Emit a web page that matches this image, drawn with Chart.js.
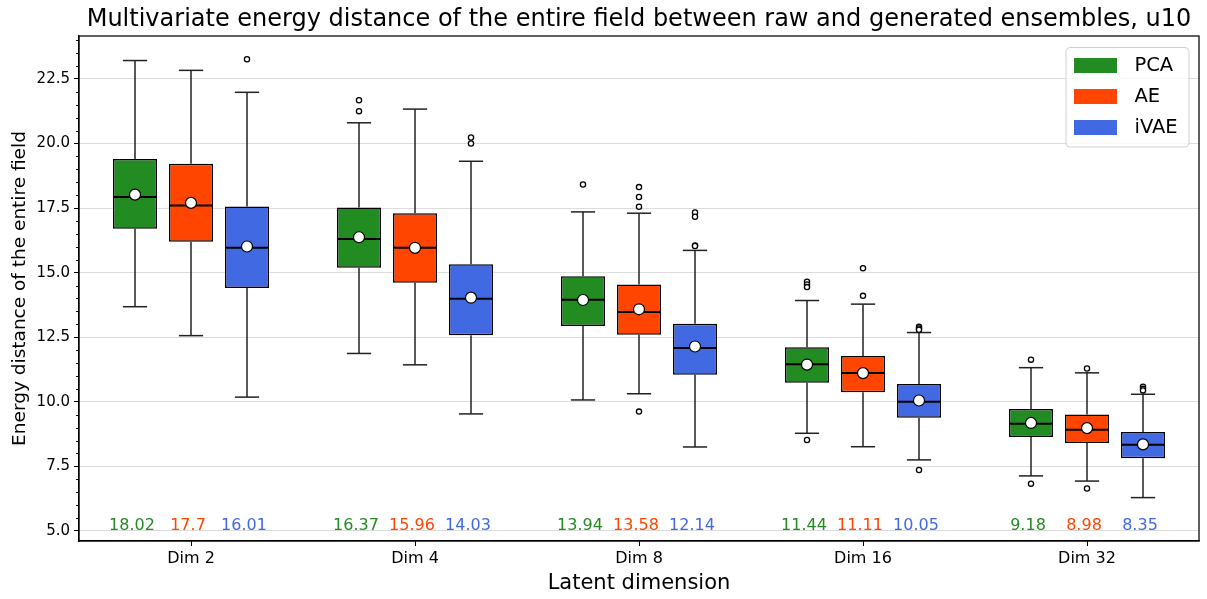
<!DOCTYPE html>
<html>
<head>
<meta charset="utf-8">
<title>Energy distance boxplots</title>
<script src="https://cdn.jsdelivr.net/npm/chart.js@4.4.0/dist/chart.umd.min.js"></script>
<style>
  html, body { margin: 0; padding: 0; background: #fff; }
  #wrap { width: 1207px; height: 599px; }
</style>
</head>
<body>
<div id="wrap"><canvas id="chart" width="1207" height="599"></canvas></div>
<script>
// latent dimensions on the x axis
var dims = ['Dim 2', 'Dim 4', 'Dim 8', 'Dim 16', 'Dim 32'];
var methods = ['PCA', 'AE', 'iVAE'];
var yTicks = [5.0, 7.5, 10.0, 12.5, 15.0, 17.5, 20.0, 22.5];

// PCA
var pcaMean   = [18.02, 16.37, 13.94, 11.44, 9.18];
var pcaMedian = [17.93, 16.30, 13.95, 11.45, 9.15];
var pcaQ1     = [16.70, 15.19, 12.93, 10.74, 8.64];
var pcaQ3     = [19.40, 17.52, 14.86, 12.11, 9.72];
var pcaLow    = [13.68, 11.87, 10.07, 8.78, 7.13];
var pcaHigh   = [23.21, 20.80, 17.35, 13.92, 11.32];
var pcaFliers = [[], [21.67, 21.25], [18.41], [14.65, 14.54, 14.44, 8.52], [11.63, 6.83]];

// AE
var aeMean   = [17.70, 15.96, 13.58, 11.11, 8.98];
var aeMedian = [17.60, 15.96, 13.48, 11.11, 8.92];
var aeQ1     = [16.19, 14.61, 12.59, 10.37, 8.40];
var aeQ3     = [19.21, 17.30, 14.54, 11.77, 9.51];
var aeLow    = [12.56, 11.43, 10.31, 8.26, 6.93];
var aeHigh   = [22.83, 21.33, 17.30, 13.78, 11.12];
var aeFliers = [[], [], [18.31, 17.93, 17.55, 9.62], [15.17, 14.10], [11.29, 6.64]];

// iVAE
var ivaeMean   = [16.01, 14.03, 12.14, 10.05, 8.35];
var ivaeMedian = [15.96, 13.99, 12.08, 10.00, 8.34];
var ivaeQ1     = [14.40, 12.58, 11.05, 9.38, 7.81];
var ivaeQ3     = [17.56, 15.32, 13.02, 10.69, 8.83];
var ivaeLow    = [10.18, 9.53, 8.25, 7.75, 6.29];
var ivaeHigh   = [21.98, 19.31, 15.86, 12.68, 10.29];
var ivaeFliers = [[23.26], [20.23, 20.00], [17.33, 17.16, 16.05, 16.03], [12.90, 12.84, 12.79, 7.36], [10.58, 10.50, 10.44]];

var colors = ['#228b22', '#ff4500', '#4169e1'];

var stats = [
  { mean: pcaMean,  median: pcaMedian,  q1: pcaQ1,  q3: pcaQ3,  lo: pcaLow,  hi: pcaHigh,  fliers: pcaFliers },
  { mean: aeMean,   median: aeMedian,   q1: aeQ1,   q3: aeQ3,   lo: aeLow,   hi: aeHigh,   fliers: aeFliers },
  { mean: ivaeMean, median: ivaeMedian, q1: ivaeQ1, q3: ivaeQ3, lo: ivaeLow, hi: ivaeHigh, fliers: ivaeFliers }
];

Chart.defaults.font.family = '"DejaVu Sans", sans-serif';
Chart.defaults.color = '#000';

function seg(ctx, x1, y1, x2, y2){
  ctx.beginPath();
  ctx.moveTo(x1, y1);
  ctx.lineTo(x2, y2);
  ctx.stroke();
}

function dot(ctx, x, y, r, lw){
  ctx.beginPath();
  ctx.arc(x, y, r, 0, Math.PI*2);
  ctx.fillStyle = '#fff';
  ctx.fill();
  ctx.lineWidth = lw;
  ctx.strokeStyle = '#000';
  ctx.stroke();
}

// whiskers, medians, means, fliers and the mean labels, drawn on top of the bars
var boxExtras = {
  id: 'boxExtras',
  afterDatasetsDraw: function(chart){
    var ctx = chart.ctx, ys = chart.scales.y;
    ctx.save();
    chart.data.datasets.forEach(function(ds, di){
      var meta = chart.getDatasetMeta(di);
      var st = stats[di];
      meta.data.forEach(function(bar, i){
        var x = bar.x, half = bar.width/2, cap = half*0.55;
        var pHi = ys.getPixelForValue(st.hi[i]), pLo = ys.getPixelForValue(st.lo[i]);
        ctx.strokeStyle = '#222';
        ctx.lineWidth = 1.5;
        seg(ctx, x, ys.getPixelForValue(st.q3[i]), x, pHi);
        seg(ctx, x, ys.getPixelForValue(st.q1[i]), x, pLo);
        seg(ctx, x - cap, pHi, x + cap, pHi);
        seg(ctx, x - cap, pLo, x + cap, pLo);
        // median
        ctx.strokeStyle = '#000';
        ctx.lineWidth = 2;
        var pMed = ys.getPixelForValue(st.median[i]);
        seg(ctx, x - half + 1, pMed, x + half - 1, pMed);
        // fliers
        st.fliers[i].forEach(function(v){
          dot(ctx, x, ys.getPixelForValue(v), 2.6, 1.3);
        });
        // mean
        dot(ctx, x, ys.getPixelForValue(st.mean[i]), 5.5, 1.2);
        // mean value written along the bottom
        ctx.fillStyle = colors[di];
        ctx.font = '16px "DejaVu Sans"';
        ctx.textAlign = 'center';
        ctx.textBaseline = 'alphabetic';
        ctx.fillText(String(st.mean[i]), x - 3, ys.getPixelForValue(5.0) - 1);
      });
    });
    ctx.restore();
  },
  afterDraw: function(chart){
    var ctx = chart.ctx, a = chart.chartArea, ys = chart.scales.y;
    ctx.save();
    // minor ticks on the y axis
    ctx.strokeStyle = '#000';
    ctx.lineWidth = 1;
    for (var k = 10; k <= 48; k++){
      var v = k/2;
      if (k % 5 === 0) continue;
      var py = Math.round(ys.getPixelForValue(v)) + 0.5;
      seg(ctx, a.left - 3, py, a.left, py);
    }
    // frame round the plot
    ctx.lineWidth = 1.25;
    ctx.strokeStyle = '#000';
    ctx.strokeRect(a.left, a.top, a.right - a.left, a.bottom - a.top);

    // legend in the upper right corner
    var lx = a.right - 133, ly = a.top + 11.5, lw = 123, lh = 99.5;
    ctx.beginPath();
    ctx.roundRect(lx, ly, lw, lh, 4);
    ctx.fillStyle = 'rgba(255,255,255,0.8)';
    ctx.fill();
    ctx.strokeStyle = '#d0d0d0';
    ctx.lineWidth = 1;
    ctx.stroke();
    ctx.font = '19.5px "DejaVu Sans"';
    ctx.textAlign = 'left';
    ctx.textBaseline = 'middle';
    methods.forEach(function(m, i){
      var ry = ly + 10.5 + i*31;
      ctx.fillStyle = colors[i];
      ctx.fillRect(lx + 8, ry, 43, 15);
      ctx.fillStyle = '#000';
      ctx.fillText(m, lx + 68.5, ry + 8);
    });
    ctx.restore();
  }
};

var datasets = methods.map(function(m, di){
  return {
    label: m,
    data: stats[di].q1.map(function(v, i){ return [v, stats[di].q3[i]]; }),
    backgroundColor: colors[di],
    borderColor: '#000',
    borderWidth: 1.5,
    borderSkipped: false,
    barPercentage: 0.786,
    categoryPercentage: 0.75
  };
});

var chart = new Chart(document.getElementById('chart'), {
  type: 'bar',
  data: { labels: dims, datasets: datasets },
  options: {
    responsive: false,
    animation: false,
    events: [],
    layout: { padding: { left: 0, right: 8, top: 0, bottom: 0 } },
    plugins: {
      legend: { display: false },
      tooltip: { enabled: false },
      title: {
        display: true,
        fullSize: false,
        text: 'Multivariate energy distance of the entire field between raw and generated ensembles, u10',
        font: { size: 24, weight: 'normal' },
        color: '#000',
        padding: { top: 5.6, bottom: 1.6 }
      }
    },
    scales: {
      x: {
        offset: true,
        afterFit: function(s){ s.height = 58; },
        ticks: { font: { size: 16 }, color: '#000', padding: 3 },
        grid: { drawOnChartArea: false, offset: false, tickColor: '#000', tickLength: 5 },
        border: { color: '#000', width: 1.25 },
        title: { display: true, text: 'Latent dimension', font: { size: 21 }, color: '#000', padding: { top: 0, bottom: 3 } }
      },
      y: {
        min: 4.61,
        max: 24.16,
        afterFit: function(s){ s.width = 79; },
        afterBuildTicks: function(s){
          s.ticks = yTicks.map(function(v){ return { value: v }; });
        },
        ticks: {
          font: { size: 15 },
          color: '#000',
          padding: 4,
          callback: function(v){ return Number(v).toFixed(1); }
        },
        grid: { color: '#dcdcdc', tickColor: '#000', tickLength: 5, lineWidth: 1 },
        border: { color: '#000', width: 1.25 },
        title: { display: true, text: 'Energy distance of the entire field', font: { size: 18.5 }, color: '#000', padding: { top: 9, bottom: 0 } }
      }
    }
  },
  plugins: [boxExtras]
});
</script>
</body>
</html>
